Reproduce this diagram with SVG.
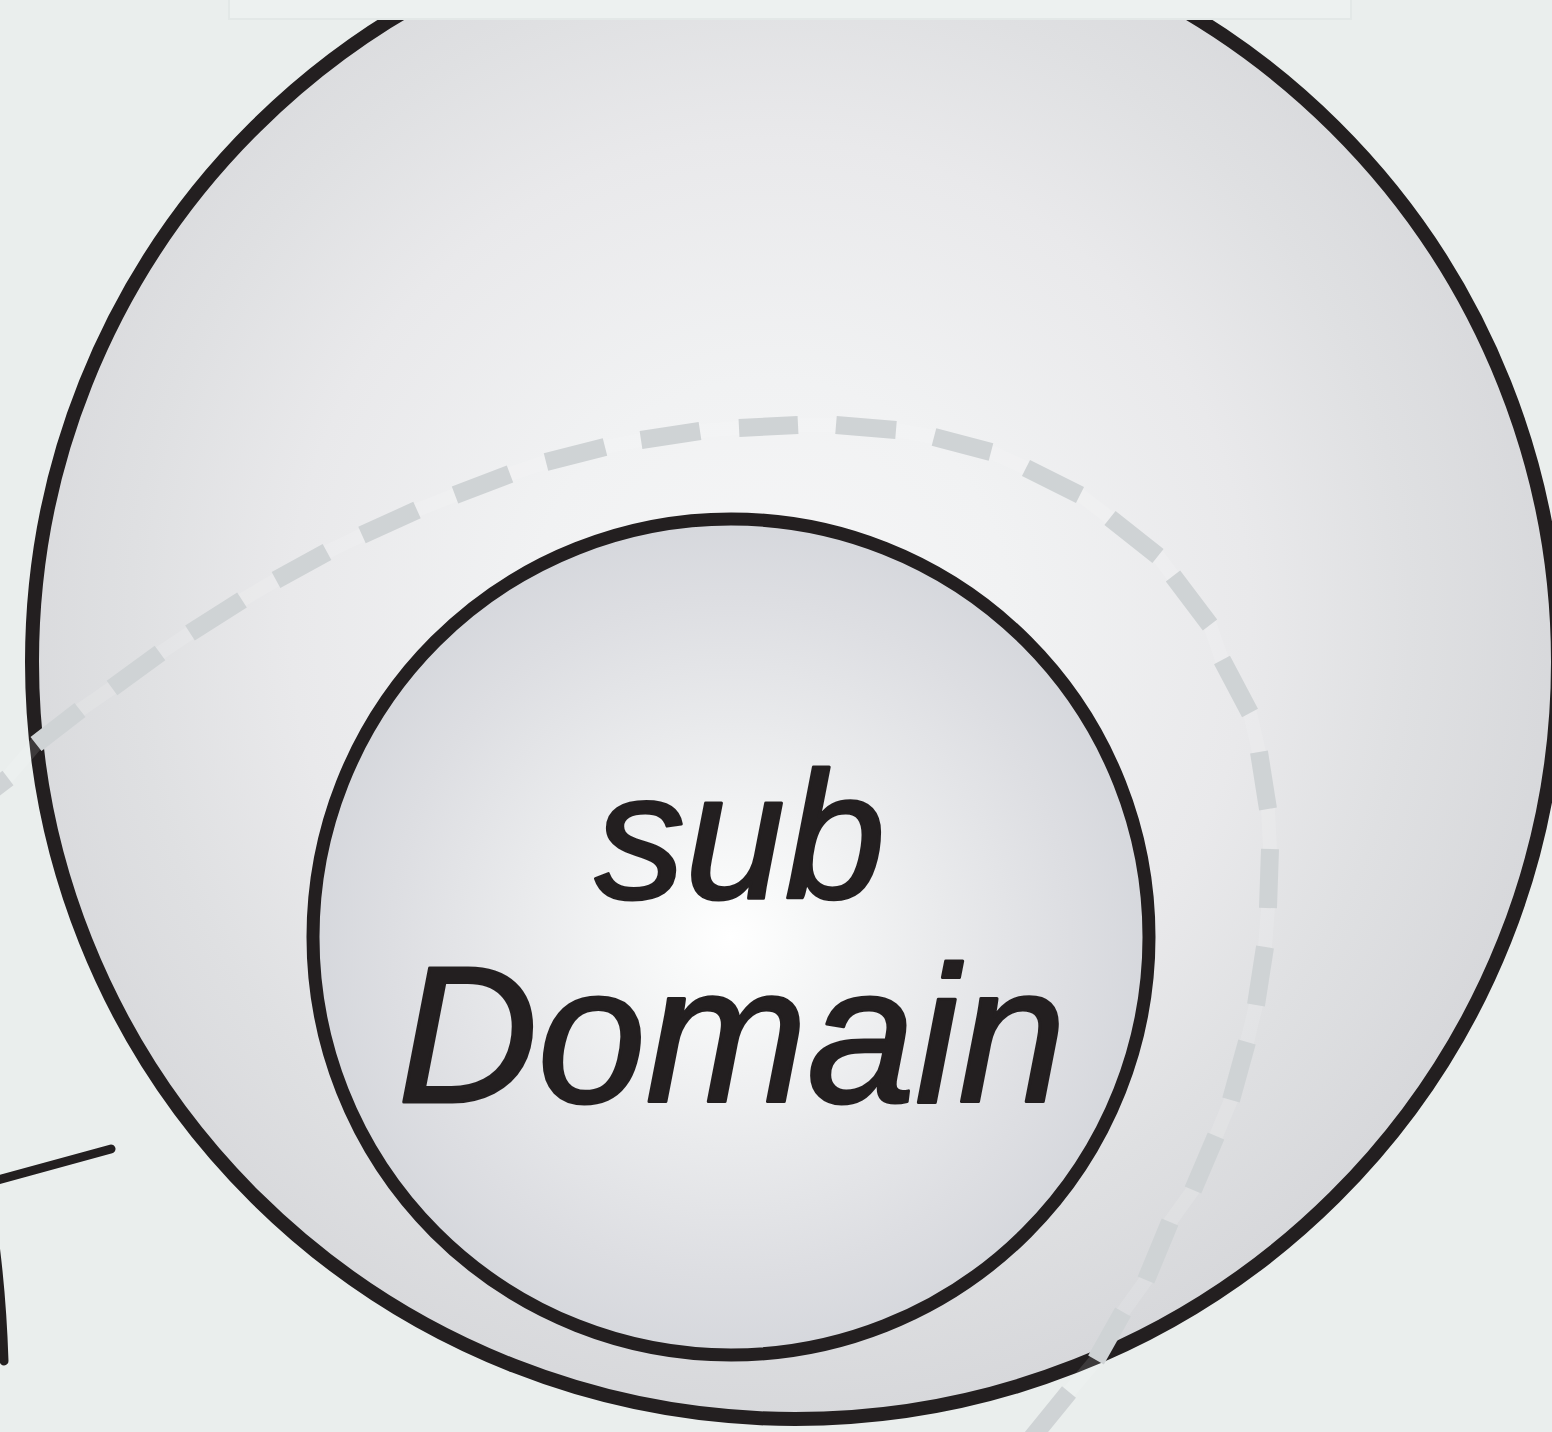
<svg xmlns="http://www.w3.org/2000/svg" width="1552" height="1432" viewBox="0 0 1552 1432">
  <defs>
    <radialGradient id="outerFill" gradientUnits="userSpaceOnUse" cx="770" cy="620" r="800">
      <stop offset="0" stop-color="#f6f6f7"/>
      <stop offset="0.3" stop-color="#f1f2f3"/>
      <stop offset="0.6" stop-color="#e9e9eb"/>
      <stop offset="0.8" stop-color="#dfe0e2"/>
      <stop offset="1" stop-color="#d7d8db"/>
    </radialGradient>
    <radialGradient id="innerFill" gradientUnits="userSpaceOnUse" cx="731" cy="937" r="424">
      <stop offset="0" stop-color="#ffffff"/>
      <stop offset="0.15" stop-color="#f8f9f9"/>
      <stop offset="0.5" stop-color="#e9eaec"/>
      <stop offset="0.8" stop-color="#dddee2"/>
      <stop offset="1" stop-color="#d5d7dc"/>
    </radialGradient>
    <style>
      .outline { stroke: #231f20; stroke-width: 14; }
      .inner { stroke: #231f20; stroke-width: 13; }
      .dash { fill: none; stroke: #cfd3d5; stroke-width: 18; stroke-linecap: butt; }
      .trace { fill: none; stroke: #ffffff; stroke-opacity: 0.12; stroke-width: 14; stroke-linejoin: round; }
      .wire { fill: none; stroke: #231f20; stroke-width: 9; stroke-linecap: round; }
      .label { font-family: "Liberation Sans", Arial, sans-serif; font-style: italic; fill: #231f20; stroke: #231f20; stroke-width: 3; stroke-linejoin: round; text-anchor: middle; }
    </style>
  </defs>

  <!-- backdrop -->
  <rect x="0" y="0" width="1552" height="1432" fill="#eaeeed"/>

  <!-- outer domain -->
  <g id="domain">
    <ellipse cx="795" cy="662" rx="763" ry="757" fill="url(#outerFill)" class="outline"/>
  </g>

  <!-- header strip along the top edge -->
  <rect x="229" y="-4" width="1122" height="23" fill="#edf1f0" stroke="#e3e8e7" stroke-width="2"/>

  <!-- sub domain -->
  <g id="sub-domain">
    <circle cx="731" cy="937" r="418" fill="url(#innerFill)" class="inner"/>
    <text class="label" x="740" y="898" font-size="180">sub</text>
    <text class="label" x="732" y="1102" font-size="194">Domain</text>
  </g>

  <!-- connectors and boundaries -->
  <g id="connectors">
    <path class="trace" d="M-40,815 L6,779 L36,744 L80,710 L112,688 L160,653 L190,633 L242,600 L276,580 L327,552 L362,535 L417,510 L455,495 L510,474 L546,462 L605,447 L641,440 L700,431 L739,428 L798,425 L836,425 L896,430 L934,437 L991,452 L1026,468 L1080,495 L1110,518 L1158,556 L1173,576 L1210,625 L1222,660 L1250,713 L1259,752 L1268,809 L1270,849 L1268,908 L1265,947 L1256,1005 L1247,1042 L1231,1100 L1216,1136 L1193,1190 L1170,1222 L1146,1280 L1123,1312 L1096,1360 L1069,1392 L1030,1440"/>
    <path class="dash" d="M-40,815 L8,778 M36,744 L80,710 M112,688 L160,653 M190,633 L242,600 M276,580 L327,552 M362,535 L417,510 M455,495 L510,474 M546,462 L605,447 M641,440 L700,431 M739,428 L798,425 M836,425 L896,430 M934,437 L991,452 M1026,468 L1080,495 M1110,518 L1158,556 M1173,576 L1210,625 M1222,660 L1250,713 M1259,752 L1268,809 M1270,849 L1268,908 M1265,947 L1256,1005 M1247,1042 L1231,1100 M1216,1136 L1193,1190 M1170,1222 L1146,1280 M1123,1312 L1096,1360 M1069,1392 L1030,1440"/>
    <path class="wire" d="M-6,1181 L111,1149"/>
    <path class="wire" d="M-5,1245 Q2,1300 4,1361"/>
  </g>
</svg>
